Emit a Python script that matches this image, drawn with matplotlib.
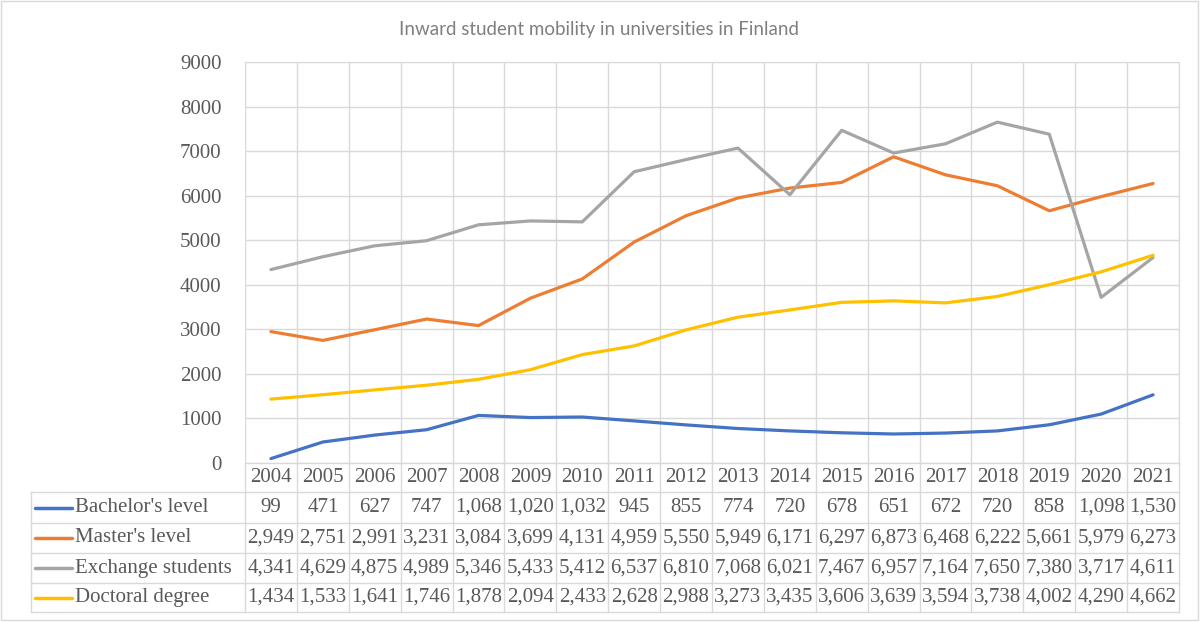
import matplotlib
matplotlib.use("Agg")
import matplotlib.pyplot as plt
import matplotlib.transforms as mtransforms
from matplotlib.lines import Line2D
from matplotlib.patches import Rectangle

years = [2004, 2005, 2006, 2007, 2008, 2009, 2010, 2011, 2012, 2013,
         2014, 2015, 2016, 2017, 2018, 2019, 2020, 2021]
bachelor = [99, 471, 627, 747, 1068, 1020, 1032, 945, 855, 774,
            720, 678, 651, 672, 720, 858, 1098, 1530]
master = [2949, 2751, 2991, 3231, 3084, 3699, 4131, 4959, 5550, 5949,
          6171, 6297, 6873, 6468, 6222, 5661, 5979, 6273]
exchange = [4341, 4629, 4875, 4989, 5346, 5433, 5412, 6537, 6810, 7068,
            6021, 7467, 6957, 7164, 7650, 7380, 3717, 4611]
doctoral = [1434, 1533, 1641, 1746, 1878, 2094, 2433, 2628, 2988, 3273,
            3435, 3606, 3639, 3594, 3738, 4002, 4290, 4662]
series_names = ["Bachelor's level", "Master's level", "Exchange students", "Doctoral degree"]
series_vals = [bachelor, master, exchange, doctoral]
colors = ["#4472C4", "#ED7D31", "#A5A5A5", "#FFC000"]
yticks = [0, 1000, 2000, 3000, 4000, 5000, 6000, 7000, 8000, 9000]
title = "Inward student mobility in universities in Finland"

W, H = 1200, 622
SERIF = ["Liberation Serif", "DejaVu Serif"]
TXT = "#595959"
GRID = "#D9D9D9"

fig = plt.figure(figsize=(W / 100, H / 100), dpi=100)

def fx(px):
    return px / W

def fy(py):
    return (H - py) / H

L, R, T, B = 245, 1179, 62, 463
ax = fig.add_axes([fx(L), fy(B), fx(R - L), (B - T) / H])
x = list(range(len(years)))
for name, vals, c in zip(series_names, series_vals, colors):
    ax.plot(x, vals, color=c, lw=2.3, solid_capstyle="round", zorder=3)

ax.set_xlim(-0.5, len(years) - 0.5)
ax.set_ylim(0, 9000)
ax.set_yticks(yticks)
ax.set_yticklabels([str(v) for v in yticks], fontfamily=SERIF, fontsize=15, color=TXT)
ax.tick_params(axis="y", length=0, pad=17)
ax.set_xticks([i - 0.5 for i in range(len(years) + 1)])
ax.tick_params(axis="x", length=0, labelbottom=False)
ax.grid(True, color=GRID, lw=1)
for s in ax.spines.values():
    s.set_visible(False)
ax.spines["top"].set_visible(True)
ax.spines["top"].set_color(GRID)
ax.spines["right"].set_visible(True)
ax.spines["right"].set_color(GRID)

# title
fig.text(fx(599), fy(30), title, ha="center", va="center", fontsize=13.5,
         family=["Lato", "DejaVu Sans"], color="#7f7f7f")

# data table
bt = mtransforms.blended_transform_factory(ax.transData, fig.transFigure)
row_edges = [463, 492, 523, 553, 583, 612]
for i, ry in enumerate(row_edges):
    x0 = L if i == 0 else 31
    fig.add_artist(Line2D([fx(x0), fx(R)], [fy(ry), fy(ry)], color=GRID, lw=1))
for i in range(len(years) + 1):
    fig.add_artist(Line2D([i - 0.5, i - 0.5], [fy(463), fy(612)], color=GRID, lw=1,
                          transform=bt))
fig.add_artist(Line2D([fx(31), fx(31)], [fy(492), fy(612)], color=GRID, lw=1))

for i, yr in enumerate(years):
    fig.text(i, fy(478), str(yr), transform=bt, ha="center", va="center",
             fontsize=15, family=SERIF, color=TXT)
for r, (name, vals, c) in enumerate(zip(series_names, series_vals, colors)):
    cy = (row_edges[r + 1] + row_edges[r + 2]) / 2
    fig.add_artist(Line2D([fx(35), fx(72)], [fy(cy), fy(cy)], color=c, lw=2.5,
                          solid_capstyle="round"))
    fig.text(fx(75), fy(cy), name, ha="left", va="center", fontsize=15,
             family=SERIF, color=TXT)
    for i, v in enumerate(vals):
        fig.text(i, fy(cy), f"{v:,}", transform=bt, ha="center", va="center",
                 fontsize=15, family=SERIF, color=TXT)

fig.add_artist(Rectangle((fx(1), fy(620)), fx(1197), (619) / H, fill=False,
                         edgecolor=GRID, lw=1, transform=fig.transFigure))

fig.savefig("out.png", dpi=100, facecolor="white")
